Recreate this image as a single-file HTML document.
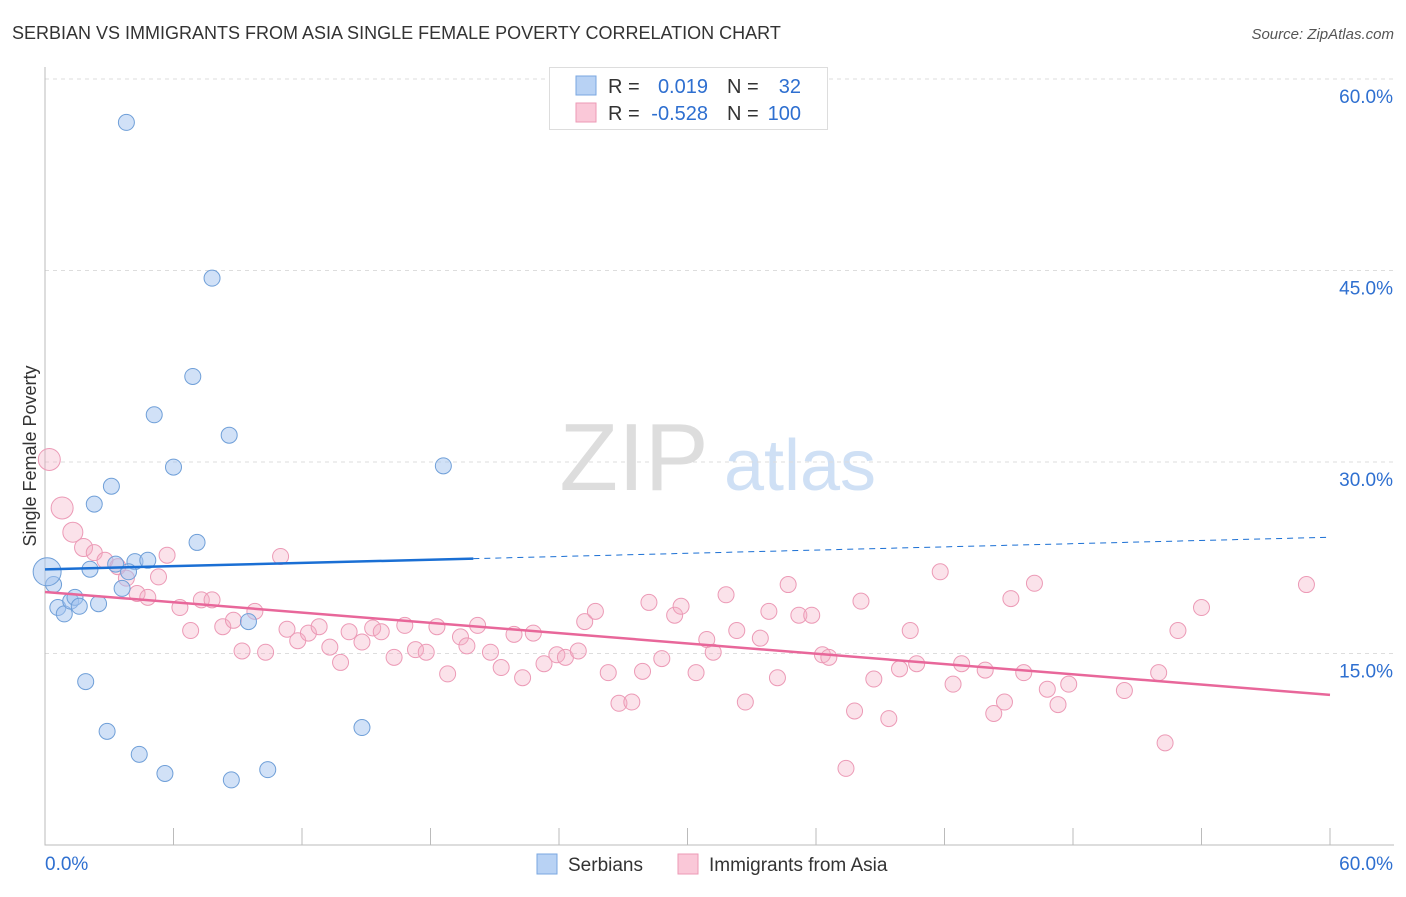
<!DOCTYPE html>
<html><head><meta charset="utf-8"><style>
body{margin:0;background:#fff;font-family:"Liberation Sans",sans-serif;}
svg text{font-family:"Liberation Sans",sans-serif;}
</style></head><body>
<svg id="c" width="1406" height="892" xmlns="http://www.w3.org/2000/svg">
<text x="12" y="39" font-size="18" fill="#333">SERBIAN VS IMMIGRANTS FROM ASIA SINGLE FEMALE POVERTY CORRELATION CHART</text>
<text x="1394" y="39" font-size="15" fill="#555" font-style="italic" text-anchor="end">Source: ZipAtlas.com</text>
<text x="36" y="456" font-size="18" fill="#333" text-anchor="middle" transform="rotate(-90 36 456)">Single Female Poverty</text>
<g><text x="634" y="490" font-size="96" fill="#ddd" font-family="Liberation Serif" text-anchor="middle">ZIP</text><text x="800" y="490" font-size="72" fill="#cfe0f5" text-anchor="middle">atlas</text></g>
<g id="grid"></g><g id="marks"></g>
<g>
<rect x="549.5" y="67.5" width="278" height="62" fill="#fff" stroke="#ddd"/>
<rect x="576" y="76" width="20" height="19" fill="#b8d2f4" stroke="#7aa7e0"/>
<rect x="576" y="103" width="20" height="19" fill="#fac8d8" stroke="#ec9ab6"/>
<text x="608" y="93" font-size="20" fill="#333">R =</text><text x="708" y="93" font-size="20" fill="#2e6fd0" text-anchor="end">0.019</text>
<text x="727" y="93" font-size="20" fill="#333">N =</text><text x="801" y="93" font-size="20" fill="#2e6fd0" text-anchor="end">32</text>
<text x="608" y="120" font-size="20" fill="#333">R =</text><text x="708" y="120" font-size="20" fill="#2e6fd0" text-anchor="end">-0.528</text>
<text x="727" y="120" font-size="20" fill="#333">N =</text><text x="801" y="120" font-size="20" fill="#2e6fd0" text-anchor="end">100</text>
</g>
<g>
<rect x="537" y="854" width="20" height="20" fill="#b8d2f4" stroke="#7aa7e0"/><text x="568" y="871" font-size="19" fill="#333">Serbians</text>
<rect x="678" y="854" width="20" height="20" fill="#fac8d8" stroke="#ec9ab6"/><text x="709" y="871" font-size="19" fill="#333">Immigrants from Asia</text>
</g>
</svg>
<script>
const yTicks=[15,30,45,60];
const xTickLabels=["0.0%","60.0%"];
const blueX=[3.8,7.8,6.9,5.1,8.6,6.0,18.6,3.1,2.3,7.1,4.2,4.8,3.3,2.1,3.9,3.6,0.4,0.1,0.6,0.9,1.2,1.4,1.6,2.5,9.5,1.9,2.9,4.4,5.6,8.7,10.4,14.8];
const blueY=[56.6,44.4,36.7,33.7,32.1,29.6,29.7,28.1,26.7,23.7,22.2,22.3,22.0,21.6,21.4,20.1,20.4,21.4,18.6,18.1,19.1,19.4,18.7,18.9,17.5,12.8,8.9,7.1,5.6,5.1,5.9,9.2];
const pinkX=[0.2,0.8,1.3,1.8,2.3,2.8,3.4,3.8,4.3,4.8,5.3,5.7,6.3,6.8,7.3,7.8,8.3,8.8,9.2,9.8,10.3,11.0,11.3,11.8,12.3,12.8,13.3,13.8,14.2,14.8,15.3,15.7,16.3,16.8,17.3,17.8,18.3,18.8,19.4,19.7,20.2,20.8,21.3,21.9,22.3,22.8,23.3,23.9,24.3,24.9,25.2,25.7,26.3,26.8,27.4,27.9,28.2,28.8,29.4,29.7,30.4,30.9,31.2,31.8,32.3,32.7,33.4,33.8,34.2,34.7,35.2,35.8,36.3,36.6,37.4,37.8,38.1,38.7,39.4,39.9,40.4,40.7,41.8,42.4,42.8,43.9,44.3,44.8,45.1,45.7,46.2,46.8,47.3,47.8,50.4,52.0,52.3,52.9,54.0,58.9];
const pinkY=[30.2,26.4,24.5,23.3,22.9,22.3,21.8,20.9,19.7,19.4,21.0,22.7,18.6,16.8,19.2,19.2,17.1,17.6,15.2,18.3,15.1,22.6,16.9,16.0,16.6,17.1,15.5,14.3,16.7,15.9,17.0,16.7,14.7,17.2,15.3,15.1,17.1,13.4,16.3,15.6,17.2,15.1,13.9,16.5,13.1,16.6,14.2,14.9,14.7,15.2,17.5,18.3,13.5,11.1,11.2,13.6,19.0,14.6,18.0,18.7,13.5,16.1,15.1,19.6,16.8,11.2,16.2,18.3,13.1,20.4,18.0,18.0,14.9,14.7,6.0,10.5,19.1,13.0,9.9,13.8,16.8,14.2,21.4,12.6,14.2,13.7,10.3,11.2,19.3,13.5,20.5,12.2,11.0,12.6,12.1,13.5,8.0,16.8,18.6,20.4];
const big={"b17":14,"p0":11,"p1":11,"p2":10,"p3":9};
const ns="http://www.w3.org/2000/svg";
const X=v=>45+v*1285/60, Y=v=>845-v*766/60;
function mk(t,a,p){const e=document.createElementNS(ns,t);for(const k in a)e.setAttribute(k,a[k]);p.appendChild(e);return e;}
const g=document.getElementById('grid'),m=document.getElementById('marks');
yTicks.forEach(t=>{const l=mk('line',{x1:45,x2:1394,y1:Y(t),y2:Y(t),stroke:'#ddd','stroke-dasharray':'4 4'},g);


const tx=mk('text',{x:1393,y:Y(t)+24,'font-size':19,fill:'#2e6fd0','text-anchor':'end'},g);tx.textContent=t.toFixed(1)+'%';

});
const ax=mk('path',{d:'M45 67V845H1394',stroke:'#bbb',fill:'none'},g);


for(let i=0;i<=10;i++){const x=X(i*6);const tk=mk('line',{x1:x,x2:x,y1:828,y2:845,stroke:'#bbb'},g);

}
[[0,'start',45],[1,'end',1393]].forEach(([i,a,x])=>{const t=mk('text',{x:x,y:870,'font-size':19,fill:'#2e6fd0','text-anchor':a},g);t.textContent=xTickLabels[i];

});
pinkX.forEach((v,i)=>{const c=mk('circle',{cx:X(v),cy:Y(pinkY[i]),r:big['p'+i]||8,fill:'rgba(244,172,196,0.35)',stroke:'#ec9ab6','stroke-width':1},m);

});
blueX.forEach((v,i)=>{const c=mk('circle',{cx:X(v),cy:Y(blueY[i]),r:big['b'+i]||8,fill:'rgba(164,196,240,0.5)',stroke:'#6f9fd8','stroke-width':1},m);

});
function fit(xs,ys){const n=xs.length,mx=xs.reduce((a,b)=>a+b)/n,my=ys.reduce((a,b)=>a+b)/n;let sxy=0,sxx=0;xs.forEach((x,i)=>{sxy+=(x-mx)*(ys[i]-my);sxx+=(x-mx)**2});const b=sxy/sxx;return [my-b*mx,b];}
const [ba,bb]=fit(blueX,blueY),[pa,pb]=fit(pinkX,pinkY);
let l=mk('line',{x1:X(0),y1:Y(ba),x2:X(20),y2:Y(ba+bb*20),stroke:'#1a6fd4','stroke-width':2.5},m);


l=mk('line',{x1:X(20),y1:Y(ba+bb*20),x2:X(60),y2:Y(ba+bb*60),stroke:'#1a6fd4','stroke-width':1,'stroke-dasharray':'6 5'},m);


l=mk('line',{x1:X(0),y1:Y(pa),x2:X(60),y2:Y(pa+pb*60),stroke:'#e8679a','stroke-width':2.5},m);


</script>
</body></html>
